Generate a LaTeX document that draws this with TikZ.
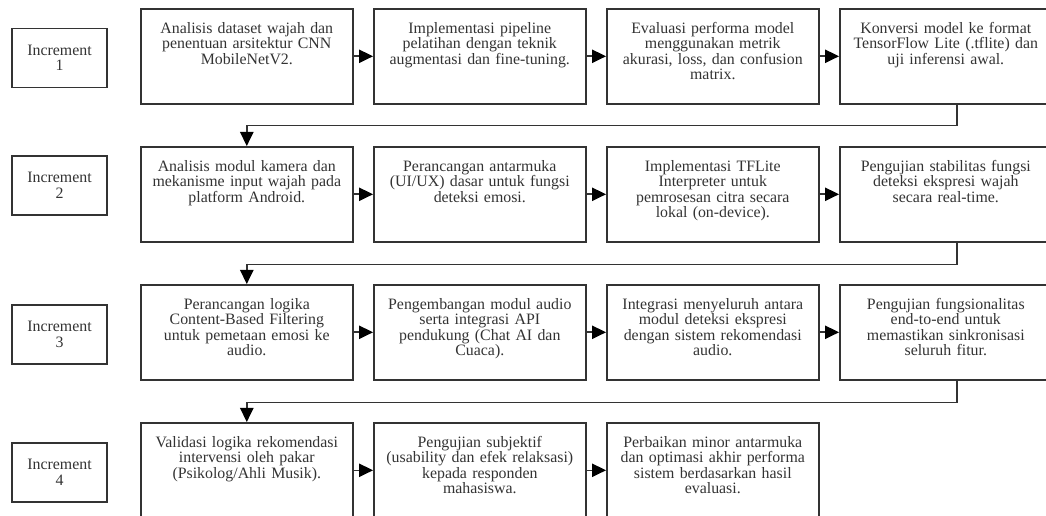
\documentclass[tikz,border=0pt]{standalone}
\usepackage{fontspec}
\setmainfont{Liberation Serif}
\usetikzlibrary{arrows.meta,calc}
\definecolor{ink}{HTML}{333333}
\begin{document}
\begin{tikzpicture}[x=0.75pt,y=-0.75pt,
  txt/.style={font=\fontsize{11.9pt}{11.6pt}\selectfont, text=ink},
  stepbox/.style={draw=ink, line width=1.2pt, minimum width=159pt, minimum height=71.25pt, inner sep=0pt, anchor=north west},
  steptext/.style={txt, anchor=north, align=center, text width=155pt, inner sep=0pt},
  incbox/.style={txt, draw=ink, line width=1.2pt, minimum width=71.25pt, minimum height=44.25pt, inner sep=0pt, align=center, text width=68pt},
  link/.style={draw=ink, line width=1.2pt, -{Triangle[length=10.5pt,width=10pt,color=black]}}]
\clip (0,0) rectangle (1046,516);

% increment labels
\node[incbox] (i1) at (59.5,58) {Increment\\1};
\node[incbox] (i2) at (59.5,185.5) {Increment\\2};
\node[incbox] (i3) at (59.5,334.5) {Increment\\3};
\node[incbox] (i4) at (59.5,472.5) {Increment\\4};

% row 1
\node[stepbox] (b11) at (140,8) {};
\node[stepbox] (b12) at (373,8) {};
\node[stepbox] (b13) at (606,8) {};
\node[stepbox] (b14) at (839,8) {};
\node[steptext] (t11) at ($(b11.north)+(0,14)$) {Analisis dataset wajah dan\\penentuan arsitektur CNN\\MobileNetV2.};
\node[steptext] (t12) at ($(b12.north)+(0,14)$) {Implementasi pipeline\\pelatihan dengan teknik\\augmentasi dan fine-tuning.};
\node[steptext] (t13) at ($(b13.north)+(0,14)$) {Evaluasi performa model\\menggunakan metrik\\akurasi, loss, dan confusion\\matrix.};
\node[steptext] (t14) at ($(b14.north)+(0,14)$) {Konversi model ke format\\TensorFlow Lite (.tflite) dan\\uji inferensi awal.};

% row 2
\node[stepbox] (b21) at (140,146) {};
\node[stepbox] (b22) at (373,146) {};
\node[stepbox] (b23) at (606,146) {};
\node[stepbox] (b24) at (839,146) {};
\node[steptext] (t21) at ($(b21.north)+(0,14)$) {Analisis modul kamera dan\\mekanisme input wajah pada\\platform Android.};
\node[steptext] (t22) at ($(b22.north)+(0,14)$) {Perancangan antarmuka\\(UI/UX) dasar untuk fungsi\\deteksi emosi.};
\node[steptext] (t23) at ($(b23.north)+(0,14)$) {Implementasi TFLite\\Interpreter untuk\\pemrosesan citra secara\\lokal (on-device).};
\node[steptext] (t24) at ($(b24.north)+(0,14)$) {Pengujian stabilitas fungsi\\deteksi ekspresi wajah\\secara real-time.};

% row 3
\node[stepbox] (b31) at (140,284) {};
\node[stepbox] (b32) at (373,284) {};
\node[stepbox] (b33) at (606,284) {};
\node[stepbox] (b34) at (839,284) {};
\node[steptext] (t31) at ($(b31.north)+(0,14)$) {Perancangan logika\\Content-Based Filtering\\untuk pemetaan emosi ke\\audio.};
\node[steptext] (t32) at ($(b32.north)+(0,14)$) {Pengembangan modul audio\\serta integrasi API\\pendukung (Chat AI dan\\Cuaca).};
\node[steptext] (t33) at ($(b33.north)+(0,14)$) {Integrasi menyeluruh antara\\modul deteksi ekspresi\\dengan sistem rekomendasi\\audio.};
\node[steptext] (t34) at ($(b34.north)+(0,14)$) {Pengujian fungsionalitas\\end-to-end untuk\\memastikan sinkronisasi\\seluruh fitur.};

% row 4
\node[stepbox] (b41) at (140,422) {};
\node[stepbox] (b42) at (373,422) {};
\node[stepbox] (b43) at (606,422) {};
\node[steptext] (t41) at ($(b41.north)+(0,14)$) {Validasi logika rekomendasi\\intervensi oleh pakar\\(Psikolog/Ahli Musik).};
\node[steptext] (t42) at ($(b42.north)+(0,14)$) {Pengujian subjektif\\(usability dan efek relaksasi)\\kepada responden\\mahasiswa.};
\node[steptext] (t43) at ($(b43.north)+(0,14)$) {Perbaikan minor antarmuka\\dan optimasi akhir performa\\sistem berdasarkan hasil\\evaluasi.};

% arrows within each row
\foreach \r in {1,2,3} {
  \draw[link] (b\r1.east) -- (b\r2.west);
  \draw[link] (b\r2.east) -- (b\r3.west);
  \draw[link] (b\r3.east) -- (b\r4.west);
}
\draw[link] (b41.east) -- (b42.west);
\draw[link] (b42.east) -- (b43.west);

% wrap-around links to the next increment
\draw[link] ($(b14.south west)+(118,0)$) -- ++(0,21) -| (b21.north);
\draw[link] ($(b24.south west)+(118,0)$) -- ++(0,22) -| (b31.north);
\draw[link] ($(b34.south west)+(118,0)$) -- ++(0,22) -| (b41.north);
\end{tikzpicture}
\end{document}
